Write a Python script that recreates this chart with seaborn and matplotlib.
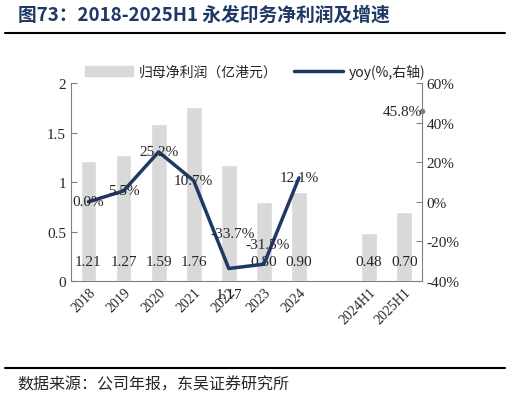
import numpy as np
import pandas as pd
import seaborn as sns
import matplotlib.pyplot as plt
from matplotlib.lines import Line2D
from matplotlib.patches import Patch

# data
categories = ['2018', '2019', '2020', '2021', '2022', '2023', '2024', ' ', '2024H1', '2025H1']
profit = [1.21, 1.27, 1.59, 1.76, 1.17, 0.80, 0.90, np.nan, 0.48, 0.70]
yoy_years = ['2018', '2019', '2020', '2021', '2022', '2023', '2024']
yoy = [0.0, 5.5, 25.2, 10.7, -33.7, -31.5, 12.1]
yoy_h1 = 45.8

NAVY = '#1F3864'
GREY = '#D9D9D9'
SERIF = ['Liberation Serif', 'Noto Sans CJK SC']
CJK = ['Noto Sans CJK SC', 'Liberation Serif']

sns.set_style('white')
plt.rcParams['font.family'] = SERIF

df = pd.DataFrame({'cat': categories, 'profit': profit})

fig = plt.figure(figsize=(5.1, 4.02), dpi=100)
ax = fig.add_axes([0.139, 0.2985, 0.688, 0.4925])

sns.barplot(data=df, x='cat', y='profit', order=categories, color=GREY,
            width=0.45, saturation=1, ax=ax)
ax.set_ylim(0, 2)
ax.set_xlim(-0.5, len(categories) - 0.5)
ax.set_yticks([0, 0.5, 1, 1.5, 2])
ax.set_yticklabels(['0', '0.5', '1', '1.5', '2'])
ax.set_xlabel('')
ax.set_ylabel('')

# tick marks at category boundaries, labels at centres
ax.set_xticks(np.arange(len(categories) + 1) - 0.5)
ax.set_xticklabels([])
ax.set_xticks(np.arange(len(categories)), minor=True)
ax.set_xticklabels(categories, minor=True, fontsize=10)
ax.tick_params(axis='x', which='minor', length=0, pad=3, labelrotation=45)
plt.setp(ax.get_xticklabels(minor=True), ha='right', rotation_mode='anchor')
ax.tick_params(axis='x', which='major', direction='in', length=4, color='#808080')
ax.tick_params(axis='y', direction='in', length=4, color='#808080', labelsize=11)

for i, v in enumerate(profit):
    if np.isnan(v):
        continue
    yy = -0.14 if categories[i] == '2022' else 0.2
    ax.text(i, yy, f'{v:.2f}', ha='center', va='center', fontsize=11,
            color='#262626', clip_on=False)

ax2 = ax.twinx()
xpos = [categories.index(c) for c in yoy_years]
sns.lineplot(x=xpos, y=yoy, color=NAVY, linewidth=2.5, ax=ax2)
ax2.set_ylim(-40, 60)
ax2.set_yticks([-40, -20, 0, 20, 40, 60])
ax2.set_yticklabels([f'{t}%' for t in [-40, -20, 0, 20, 40, 60]])
ax2.tick_params(axis='y', direction='in', length=4, color='#808080', labelsize=11)
ax2.set_ylabel('')

# label offsets (only the two negative points sit above their marker)
lift = {'2022': 17.5, '2023': 10}
for c, x, v in zip(yoy_years, xpos, yoy):
    dy = lift.get(c, 0)
    dx = 0.1 if dy else 0
    ax2.text(x + dx, v + dy, f'{v:.1f}%', ha='center', va='center', fontsize=11,
             color='#262626')

edge = len(categories) - 0.5
ax2.plot([edge], [yoy_h1], marker='o', markersize=3, color='#808080', clip_on=False)
ax2.text(edge, yoy_h1, f'{yoy_h1:.1f}%', ha='right', va='center', fontsize=11,
         color='#262626')

for a in (ax, ax2):
    a.spines['top'].set_visible(False)
    for s in ('left', 'right', 'bottom'):
        a.spines[s].set_color('#808080')
ax.spines['right'].set_visible(False)
ax2.spines['left'].set_visible(False)
ax2.spines['bottom'].set_visible(False)

handles = [Patch(color=GREY, label='归母净利润（亿港元）'),
           Line2D([0], [0], color=NAVY, linewidth=2.5, label='yoy(%,右轴)')]
fig.legend(handles=handles, loc='center', bbox_to_anchor=(0.5, 0.82), ncol=2,
           frameon=False, prop={'family': CJK, 'size': 10}, handlelength=3.5,
           columnspacing=1.2, handletextpad=0.4)

fig.text(0.035, 0.963, '图73：2018-2025H1 永发印务净利润及增速', fontsize=13.5,
         fontweight='bold', color=NAVY, va='center', family=CJK)
fig.add_artist(Line2D([0.01, 0.99], [0.915, 0.915], color='black', linewidth=1.5))
fig.add_artist(Line2D([0.01, 0.99], [0.082, 0.082], color='black', linewidth=1.5))
fig.text(0.035, 0.042, '数据来源：公司年报，东吴证券研究所', fontsize=11.5,
         va='center', family=CJK, color='#262626')

fig.savefig('out.png', dpi=100)
